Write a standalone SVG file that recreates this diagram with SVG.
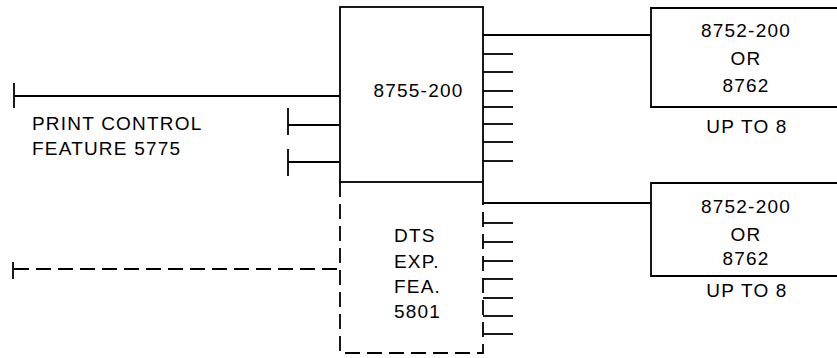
<svg xmlns="http://www.w3.org/2000/svg" width="837" height="358" viewBox="0 0 837 358">
<style>
.ln{stroke:#000;stroke-width:1.8;fill:none}
.ds{stroke:#000;stroke-width:1.8;fill:none;stroke-dasharray:15 7}
.t{font-family:"Liberation Sans",Arial,sans-serif;font-size:19px;letter-spacing:1.2px;fill:#000}
.c{text-anchor:middle}
</style>
<rect width="837" height="358" fill="#fff"/>
<g id="main-8755">
<rect class="ln" x="340" y="7" width="143" height="175"/>
<text class="t c" x="418.5" y="97">8755-200</text>
</g>
<g id="dts-exp">
<path class="ds" d="M340,182 V353 H483 V203"/>
<text class="t" x="394" y="242">DTS</text>
<text class="t" x="394" y="268">EXP.</text>
<text class="t" x="394" y="293">FEA.</text>
<text class="t" x="394" y="318">5801</text>
</g>
<g id="terminal-1">
<path class="ln" d="M845,8 H651 V107 H845"/>
<text class="t c" x="746" y="37">8752-200</text>
<text class="t c" x="746" y="65">OR</text>
<text class="t c" x="746" y="92">8762</text>
<text class="t c" x="747" y="133">UP TO 8</text>
</g>
<g id="terminal-2">
<path class="ln" d="M845,183 H651 V276 H845"/>
<text class="t c" x="746" y="213">8752-200</text>
<text class="t c" x="746" y="241">OR</text>
<text class="t c" x="746" y="265">8762</text>
<text class="t c" x="747" y="297">UP TO 8</text>
</g>
<g id="print-control">
<text class="t" x="32" y="130">PRINT CONTROL</text>
<text class="t" x="32" y="155">FEATURE 5775</text>
</g>
<g id="connectors">
<line class="ln" x1="14" y1="96" x2="340" y2="96"/>
<line class="ln" x1="14" y1="83" x2="14" y2="108"/>
<line class="ln" x1="288" y1="125" x2="340" y2="125"/>
<line class="ln" x1="288" y1="108" x2="288" y2="135"/>
<line class="ln" x1="288" y1="162" x2="340" y2="162"/>
<line class="ln" x1="288" y1="149" x2="288" y2="176"/>
<path class="ds" d="M14,269 H340"/>
<line class="ln" x1="13" y1="262" x2="13" y2="279"/>
<line class="ln" x1="483" y1="35" x2="651" y2="35"/>
<path class="ln" d="M483,182 V203 H651"/>
<g class="ln">
<line x1="483" y1="54" x2="513" y2="54"/>
<line x1="483" y1="72" x2="513" y2="72"/>
<line x1="483" y1="91" x2="513" y2="91"/>
<line x1="483" y1="107" x2="513" y2="107"/>
<line x1="483" y1="124" x2="513" y2="124"/>
<line x1="483" y1="142" x2="513" y2="142"/>
<line x1="483" y1="161" x2="513" y2="161"/>
</g>
<g class="ln">
<line x1="483" y1="223" x2="513" y2="223"/>
<line x1="483" y1="242" x2="513" y2="242"/>
<line x1="483" y1="261" x2="513" y2="261"/>
<line x1="483" y1="279" x2="513" y2="279"/>
<line x1="483" y1="298" x2="513" y2="298"/>
<line x1="483" y1="316" x2="513" y2="316"/>
<line x1="483" y1="334" x2="513" y2="334"/>
</g>
</g>
</svg>
